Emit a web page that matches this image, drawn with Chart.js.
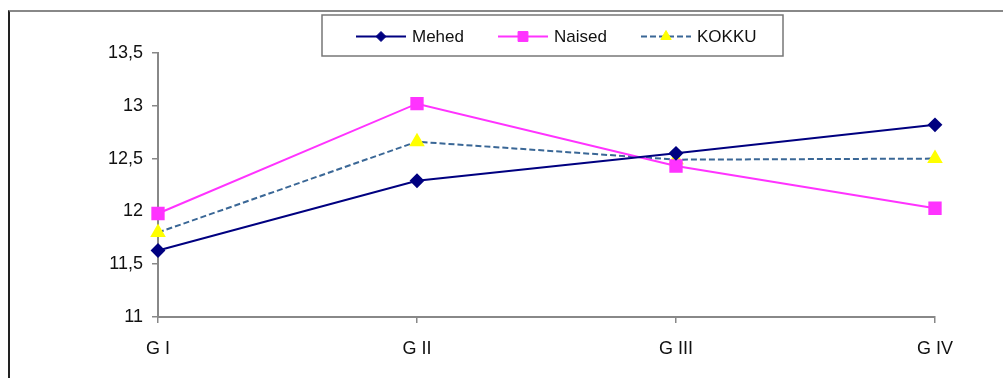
<!DOCTYPE html>
<html>
<head>
<meta charset="utf-8">
<script src="https://cdn.jsdelivr.net/npm/chart.js@4.4.1/dist/chart.umd.min.js"></script>
<style>
  body { margin: 0; background: #fff; }
  #wrap { position: relative; width: 1003px; height: 378px; }
  #frame { position: absolute; left: 8px; top: 10px; right: 0; bottom: 0;
           border-top: 2px solid #888; border-left: 2px solid #222; pointer-events: none; }
</style>
</head>
<body>
<div id="wrap">
  <canvas id="chart" width="1003" height="378"></canvas>
  <div id="frame"></div>
</div>
<script>
const categories = ['G I', 'G II', 'G III', 'G IV'];
const mehed  = [11.63, 12.29, 12.55, 12.82];
const naised = [11.98, 13.02, 12.43, 12.03];
const kokku  = [11.80, 12.66, 12.49, 12.50];
const yTicks = [11, 11.5, 12, 12.5, 13, 13.5];

const FONT = 'Liberation Sans, Arial, sans-serif';

// legend drawn in a box like the original (line + marker sample)
const boxLegend = {
    id: 'boxLegend',
    afterDraw(chart) {
        const ctx = chart.ctx;
        const box = { x: 322, y: 15, w: 461, h: 41 };
        ctx.save();
        ctx.strokeStyle = '#777';
        ctx.lineWidth = 1.5;
        ctx.strokeRect(box.x, box.y, box.w, box.h);
        const starts = [356, 498, 641];
        const cy = box.y + box.h / 2 + 1;
        chart.data.datasets.forEach((ds, i) => {
            const x0 = starts[i];
            ctx.save();
            ctx.strokeStyle = ds.borderColor;
            ctx.lineWidth = ds.borderWidth;
            ctx.setLineDash(ds.borderDash || []);
            ctx.beginPath();
            ctx.moveTo(x0, cy);
            ctx.lineTo(x0 + 50, cy);
            ctx.stroke();
            ctx.restore();
            ctx.save();
            ctx.fillStyle = ds.pointBackgroundColor;
            ctx.strokeStyle = ds.pointBorderColor;
            ctx.lineWidth = 1;
            Chart.helpers.drawPoint(ctx, {
                pointStyle: ds.pointStyle,
                radius: ds.pointRadius - 1,
                borderWidth: 1
            }, x0 + 25, cy);
            ctx.restore();
            ctx.fillStyle = '#111';
            ctx.font = '17px ' + FONT;
            ctx.textBaseline = 'middle';
            ctx.textAlign = 'left';
            ctx.fillText(ds.label, x0 + 56, cy + 1);
        });
        ctx.restore();
    }
};

new Chart(document.getElementById('chart').getContext('2d'), {
    type: 'line',
    data: {
        labels: categories,
        datasets: [
            {
                label: 'Mehed',
                data: mehed,
                borderColor: '#000080',
                borderWidth: 2,
                pointStyle: 'rectRot',
                pointRadius: 6,
                pointBackgroundColor: '#000080',
                pointBorderColor: '#000080',
                tension: 0
            },
            {
                label: 'Naised',
                data: naised,
                borderColor: '#ff33ff',
                borderWidth: 2,
                pointStyle: 'rect',
                pointRadius: 8,
                pointBackgroundColor: '#ff33ff',
                pointBorderColor: '#ff33ff',
                tension: 0
            },
            {
                label: 'KOKKU',
                data: kokku,
                borderColor: '#3a6796',
                borderWidth: 2,
                borderDash: [6, 3],
                pointStyle: 'triangle',
                pointRadius: 7,
                pointBackgroundColor: '#ffff00',
                pointBorderColor: '#ffff00',
                tension: 0
            }
        ]
    },
    options: {
        responsive: false,
        animation: false,
        layout: { padding: { top: 53, right: 68, bottom: 0, left: 0 } },
        plugins: {
            legend: { display: false },
            tooltip: { enabled: false }
        },
        scales: {
            x: {
                offset: false,
                grid: { display: true, drawOnChartArea: false, drawTicks: true, tickLength: 6, color: '#888', lineWidth: 1.5 },
                border: { display: true, color: '#888', width: 2 },
                ticks: { color: '#111', font: { family: FONT, size: 18 }, padding: 15, maxRotation: 0 },
                afterFit: s => { s.height = 61; }
            },
            y: {
                min: 11,
                max: 13.5,
                afterBuildTicks: s => { s.ticks = yTicks.map(v => ({ value: v })); },
                grid: { display: true, drawOnChartArea: false, drawTicks: true, tickLength: 6, color: '#888', lineWidth: 1.5 },
                border: { display: true, color: '#888', width: 2 },
                ticks: {
                    color: '#111',
                    font: { family: FONT, size: 18 },
                    padding: 9,
                    callback: v => String(v).replace('.', ',')
                },
                afterFit: s => { s.width = 158; }
            }
        }
    },
    plugins: [boxLegend]
});
</script>
</body>
</html>
